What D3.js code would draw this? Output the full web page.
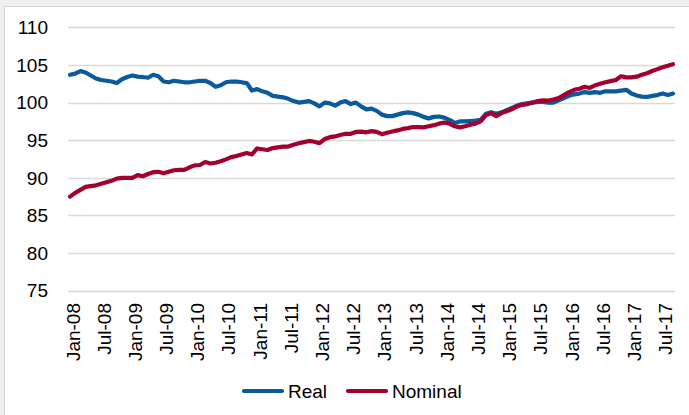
<!DOCTYPE html>
<html>
<head>
<meta charset="utf-8">
<script src="https://cdn.jsdelivr.net/npm/d3@7"></script>
<style>
  body { margin: 0; background: #fff; }
  svg { display: block; font-family: "Liberation Sans", Arial, sans-serif; }
</style>
</head>
<body>
<script>
// monthly index values, Jan-08 .. Sep-17
var startYear = 2008;
var monthCount = 117;
var real = [103.7, 103.85, 104.2, 104.0, 103.6, 103.2, 103.0, 102.9, 102.8, 102.6,
  103.1, 103.4, 103.6, 103.45, 103.4, 103.3, 103.7, 103.5, 102.8, 102.7,
  102.9, 102.8, 102.7, 102.7, 102.8, 102.9, 102.9, 102.6, 102.1, 102.3,
  102.7, 102.8, 102.8, 102.7, 102.6, 101.6, 101.8, 101.5, 101.3, 100.9,
  100.8, 100.7, 100.5, 100.2, 100.0, 100.1, 100.2, 99.9, 99.5, 100.0,
  99.9, 99.6, 100.0, 100.2, 99.8, 100.0, 99.5, 99.1, 99.2, 98.9,
  98.4, 98.2, 98.2, 98.4, 98.6, 98.7, 98.6, 98.4, 98.1, 97.9,
  98.1, 98.15, 98.0, 97.7, 97.3, 97.5, 97.5, 97.55, 97.6, 97.7,
  98.5, 98.7, 98.5, 98.7, 99.0, 99.3, 99.6, 99.8, 99.9, 100.0,
  100.1, 100.1, 100.0, 100.0, 100.3, 100.6, 100.9, 101.1, 101.2, 101.4,
  101.3, 101.4, 101.3, 101.5, 101.5, 101.5, 101.6, 101.7, 101.2, 100.95,
  100.8, 100.75, 100.9, 101.0, 101.2, 101.0, 101.2];
var nominal = [87.5, 88.0, 88.4, 88.8, 88.9, 89.0, 89.2, 89.4, 89.6, 89.9,
  90.0, 90.0, 90.0, 90.35, 90.2, 90.5, 90.75, 90.8, 90.6, 90.8,
  91.0, 91.05, 91.05, 91.4, 91.65, 91.7, 92.1, 91.9, 92.0, 92.2,
  92.45, 92.75, 92.9, 93.1, 93.3, 93.1, 93.9, 93.8, 93.7, 93.95,
  94.05, 94.15, 94.15, 94.4, 94.6, 94.75, 94.9, 94.8, 94.6, 95.15,
  95.4, 95.5, 95.7, 95.85, 95.85, 96.1, 96.15, 96.05, 96.2, 96.1,
  95.8, 96.0, 96.15, 96.3, 96.5, 96.6, 96.75, 96.75, 96.7, 96.85,
  97.0, 97.2, 97.35, 97.2, 96.85, 96.7, 96.85, 97.05, 97.2, 97.5,
  98.3, 98.6, 98.2, 98.6, 98.85, 99.1, 99.5, 99.7, 99.8, 100.0,
  100.2, 100.3, 100.27, 100.4, 100.6, 101.0, 101.4, 101.7, 101.85, 102.1,
  101.95, 102.3, 102.5, 102.7, 102.85, 103.0, 103.5, 103.35, 103.35, 103.45,
  103.7, 103.9, 104.2, 104.45, 104.7, 104.9, 105.1];
var yTicks = [75, 80, 85, 90, 95, 100, 105, 110];
var seriesNames = ["Real", "Nominal"];
var colors = ["#0b5a9b", "#a3002f"];

var width = 689, height = 415;
var monNames = ["Jan", "Feb", "Mar", "Apr", "May", "Jun", "Jul", "Aug", "Sep", "Oct", "Nov", "Dec"];
var months = d3.range(monthCount).map(function(i) {
  var yr = startYear + Math.floor(i / 12);
  return monNames[i % 12] + "-" + String(yr).slice(2);
});

var svg = d3.select("body").append("svg")
  .attr("width", width)
  .attr("height", height);

// window frame bits
svg.append("rect").attr("x", 0).attr("y", 0).attr("width", width).attr("height", 6).attr("fill", "#f0f0f0");
svg.append("rect").attr("x", 0).attr("y", 0).attr("width", 4).attr("height", height).attr("fill", "#f0f0f0");
svg.append("line").attr("x1", 4.5).attr("x2", 4.5).attr("y1", 6).attr("y2", height).attr("stroke", "#d4d4d4");
svg.append("line").attr("x1", 4).attr("x2", width).attr("y1", 6.5).attr("y2", 6.5).attr("stroke", "#d4d4d4");

var x = d3.scalePoint().domain(months).range([70, 673]);
var y = d3.scaleLinear().domain([75, 110]).range([290.6, 27.4]);

// gridlines
svg.append("g").selectAll("line").data(yTicks).enter().append("line")
  .attr("x1", 68).attr("x2", 675)
  .attr("y1", function(d) { return Math.round(y(d)) + 0.5; })
  .attr("y2", function(d) { return Math.round(y(d)) + 0.5; })
  .attr("stroke", "#d9d9d9")
  .attr("stroke-width", 1.3);

// y labels
svg.append("g").selectAll("text").data(yTicks).enter().append("text")
  .text(function(d) { return d; })
  .attr("x", 48)
  .attr("y", function(d) { return y(d); })
  .attr("dy", "0.36em")
  .attr("text-anchor", "end")
  .attr("font-size", "19px")
  .attr("fill", "#000");

// x labels every 6 months
var xLabels = months.filter(function(d, i) { return i % 6 === 0; });
svg.append("g").selectAll("text").data(xLabels).enter().append("text")
  .text(function(d) { return d; })
  .attr("transform", function(d) { return "translate(" + x(d) + ",303) rotate(-90)"; })
  .attr("dy", "0.5em")
  .attr("text-anchor", "end")
  .attr("font-size", "19px")
  .attr("fill", "#000");

var line = d3.line()
  .x(function(d, i) { return x(months[i]); })
  .y(function(d) { return y(d); });

[real, nominal].forEach(function(s, k) {
  svg.append("path")
    .datum(s)
    .attr("d", line)
    .attr("fill", "none")
    .attr("stroke", colors[k])
    .attr("stroke-width", 4.2)
    .attr("stroke-linejoin", "round")
    .attr("stroke-linecap", "round");
});

// legend
var legendX = [243, 347];
var leg = svg.append("g").selectAll("g").data(seriesNames).enter().append("g")
  .attr("transform", function(d, i) { return "translate(" + legendX[i] + ",391)"; });
leg.append("line")
  .attr("x1", 1).attr("x2", 39)
  .attr("y1", 0).attr("y2", 0)
  .attr("stroke", function(d, i) { return colors[i]; })
  .attr("stroke-width", 4.2)
  .attr("stroke-linecap", "round");
leg.append("text")
  .text(function(d) { return d; })
  .attr("x", 45)
  .attr("dy", "0.36em")
  .attr("font-size", "19px")
  .attr("fill", "#000");
</script>
</body>
</html>
